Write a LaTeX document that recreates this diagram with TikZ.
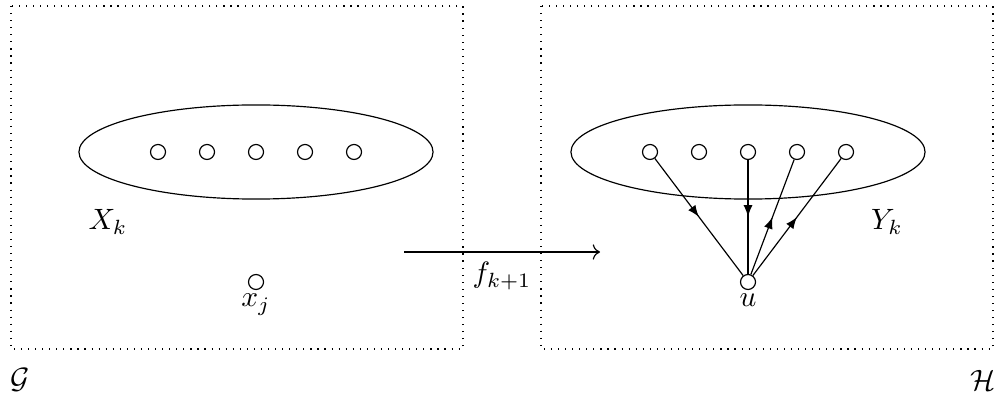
\documentclass[tikz,border=0pt]{standalone}
\usetikzlibrary{shapes.geometric,decorations.markings,arrows.meta}
\begin{document}
\begin{tikzpicture}[x=0.34pt,y=-0.34pt,
  vtx/.style={circle,draw,minimum size=5.1pt,inner sep=0pt},
  blob/.style={ellipse,draw,minimum width=120.4pt,minimum height=32pt,inner sep=0pt},
  frame/.style={dotted},
  lbl/.style={inner sep=0pt,anchor=base},
  midarrow/.style={postaction={decorate},decoration={markings,mark=at position 0.5 with {\arrow{latex}}}}]
\useasboundingbox (0,0) rectangle (995,399);
% frames
\draw[frame] (11,6) rectangle (463,349);
\draw[frame] (541,6) rectangle (993,349);
% ellipses
\node[blob] (EX) at (256,152) {};
\node[blob] (EY) at (748,152) {};
% left vertices
\node[vtx] (l1) at (158,152) {};
\node[vtx] (l2) at (207,152) {};
\node[vtx] (l3) at (256,152) {};
\node[vtx] (l4) at (305,152) {};
\node[vtx] (l5) at (354,152) {};
\node[vtx] (xj) at (256,282) {};
% right vertices
\node[vtx] (r1) at (650,152) {};
\node[vtx] (r2) at (699,152) {};
\node[vtx] (r3) at (748,152) {};
\node[vtx] (r4) at (797,152) {};
\node[vtx] (r5) at (846,152) {};
\node[vtx] (u) at (748,282) {};
% edges
\draw[midarrow] (r1) -- (u);
\draw[midarrow] (r3) -- (u);
\draw[midarrow] (u) -- (r4);
\draw[midarrow] (u) -- (r5);
% labels
\node[lbl] (xjl) at (256,307) {$x_j$};
\node[lbl] (ul) at (748,307) {$u$};
\node[lbl] (Xk) at (108,230) {$X_k$};
\node[lbl] (Yk) at (887,230) {$Y_k$};
\node (G) at (20,380) {$\mathcal{G}$};
\node (H) at (983,380) {$\mathcal{H}$};
% map arrow
\coordinate (fa) at (404,252);
\coordinate (fb) at (600,252);
\draw[->] (fa) -- node[below] (fl) {$f_{k+1}$} (fb);
\end{tikzpicture}
\end{document}
